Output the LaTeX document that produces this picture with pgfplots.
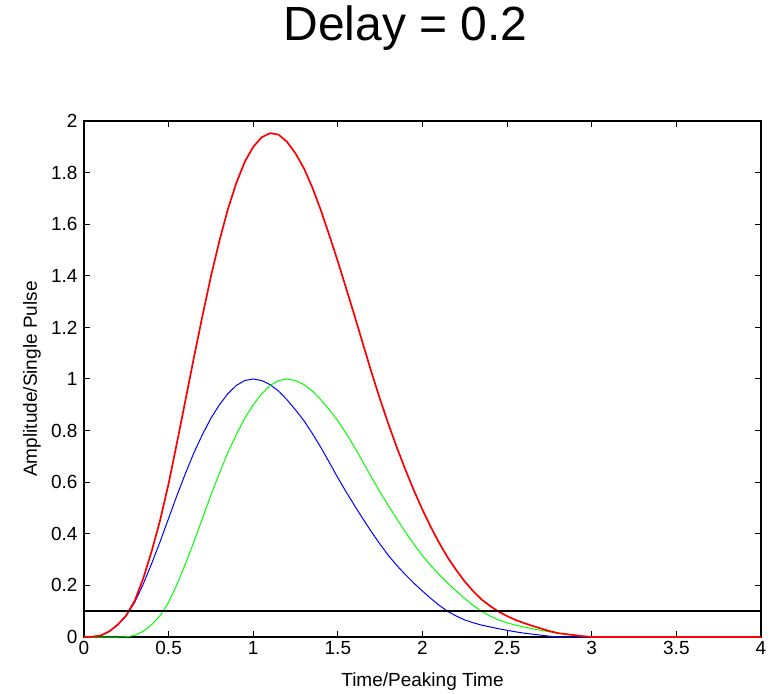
\documentclass[border=0pt]{standalone}
\usepackage{fontspec}
\setmainfont{Liberation Sans}
\usepackage{pgfplots}
\pgfplotsset{compat=1.18}
\usepackage{pgfplotstable}

% single shaped pulse, normalised to its peak (peaking time = 1)
\pgfplotstableread{
t     v
0.00  0.000
0.05  0.001
0.10  0.006
0.15  0.022
0.20  0.048
0.25  0.083
0.30  0.135
0.35  0.205
0.40  0.285
0.45  0.370
0.50  0.460
0.55  0.550
0.60  0.635
0.65  0.715
0.70  0.785
0.75  0.848
0.80  0.900
0.85  0.943
0.90  0.975
0.95  0.994
1.00  1.000
1.05  0.994
1.10  0.978
1.15  0.953
1.20  0.919
1.25  0.880
1.30  0.838
1.35  0.788
1.40  0.734
1.45  0.676
1.50  0.617
1.55  0.561
1.60  0.508
1.65  0.456
1.70  0.406
1.75  0.359
1.80  0.315
1.85  0.276
1.90  0.241
1.95  0.208
2.00  0.178
2.05  0.149
2.10  0.122
2.15  0.099
2.20  0.081
2.25  0.066
2.30  0.055
2.35  0.046
2.40  0.039
2.45  0.032
2.50  0.026
2.55  0.020
2.60  0.015
2.65  0.011
2.70  0.007
2.75  0.003
2.80  0.000
4.00  0.000
}\pulseA

% the same pulse arriving 0.2 later
\pgfplotstableread{
t     v
0.00  0.000
0.20  0.000
0.25  0.001
0.30  0.006
0.35  0.022
0.40  0.048
0.45  0.083
0.50  0.135
0.55  0.205
0.60  0.285
0.65  0.370
0.70  0.460
0.75  0.550
0.80  0.635
0.85  0.715
0.90  0.785
0.95  0.848
1.00  0.900
1.05  0.943
1.10  0.975
1.15  0.994
1.20  1.000
1.25  0.994
1.30  0.978
1.35  0.953
1.40  0.919
1.45  0.880
1.50  0.838
1.55  0.788
1.60  0.734
1.65  0.676
1.70  0.617
1.75  0.561
1.80  0.508
1.85  0.456
1.90  0.406
1.95  0.359
2.00  0.315
2.05  0.276
2.10  0.241
2.15  0.208
2.20  0.178
2.25  0.149
2.30  0.122
2.35  0.099
2.40  0.081
2.45  0.066
2.50  0.055
2.55  0.046
2.60  0.039
2.65  0.032
2.70  0.026
2.75  0.020
2.80  0.015
2.85  0.011
2.90  0.007
2.95  0.003
3.00  0.000
4.00  0.000
}\pulseB

% pile-up: sum of the two pulses
\pgfplotstableread{
t     v
0.00  0.000
0.05  0.001
0.10  0.006
0.15  0.022
0.20  0.048
0.25  0.084
0.30  0.141
0.35  0.227
0.40  0.333
0.45  0.453
0.50  0.595
0.55  0.755
0.60  0.920
0.65  1.085
0.70  1.245
0.75  1.398
0.80  1.535
0.85  1.658
0.90  1.760
0.95  1.842
1.00  1.900
1.05  1.937
1.10  1.953
1.15  1.947
1.20  1.919
1.25  1.874
1.30  1.816
1.35  1.741
1.40  1.653
1.45  1.556
1.50  1.455
1.55  1.349
1.60  1.242
1.65  1.132
1.70  1.023
1.75  0.920
1.80  0.823
1.85  0.732
1.90  0.647
1.95  0.567
2.00  0.493
2.05  0.425
2.10  0.363
2.15  0.307
2.20  0.259
2.25  0.215
2.30  0.177
2.35  0.145
2.40  0.120
2.45  0.098
2.50  0.081
2.55  0.066
2.60  0.054
2.65  0.043
2.70  0.033
2.75  0.023
2.80  0.015
2.85  0.011
2.90  0.007
2.95  0.003
3.00  0.000
4.00  0.000
}\pileup

% threshold level
\pgfplotstableread{
t    v
0    0.1
4    0.1
}\threshold

\begin{document}
\begin{tikzpicture}
\begin{axis}[
  name=ax,
  scale only axis,
  width=677pt, height=516pt,
  xmin=0, xmax=4, ymin=0, ymax=2,
  xtick={0,0.5,1,1.5,2,2.5,3,3.5,4},
  ytick={0,0.2,0.4,0.6,0.8,1,1.2,1.4,1.6,1.8,2},
  tick align=inside,
  major tick length=6pt,
  axis line style={line width=1.3pt},
  every tick/.style={black, line width=1pt},
  tick label style={font=\fontsize{19}{22}\selectfont},
  yticklabel style={xshift=-3pt},
  xticklabel style={yshift=-1pt},
  /pgf/number format/assume math mode=true,
  /pgf/number format/fixed,
  /pgf/number format/precision=1,
  xlabel={Time/Peaking Time},
  ylabel={Amplitude/Single Pulse},
  label style={font=\fontsize{19}{22}\selectfont},
  xlabel style={at={(axis description cs:0.5,0)}, anchor=center, yshift=-45pt},
  ylabel style={at={(axis description cs:-0.077,0.5)}, anchor=center},
  title={Delay = 0.2},
  title style={at={(axis description cs:0.475,1)}, anchor=base, yshift=74pt,
               font=\fontsize{48}{56}\selectfont},
  clip=false,
]
\addplot[blue, line width=1pt] table[x=t, y=v] {\pulseA};
\addplot[green, line width=1pt] table[x=t, y=v] {\pulseB};
\addplot[red, line width=1.7pt] table[x=t, y=v] {\pileup};
\addplot[black, line width=1.5pt] table[x=t, y=v] {\threshold};
\end{axis}
\pgfresetboundingbox
\useasboundingbox ([xshift=-84pt,yshift=-56pt]ax.south west) rectangle ([xshift=17pt,yshift=121pt]ax.north east);
\end{tikzpicture}
\end{document}
